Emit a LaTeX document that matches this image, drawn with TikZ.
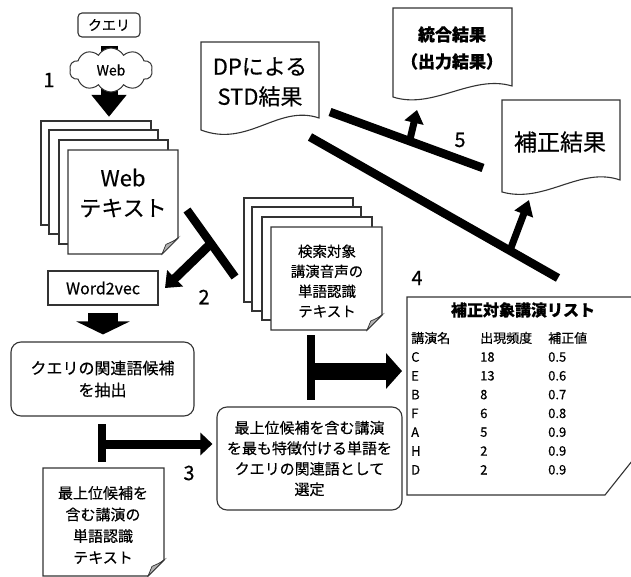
\documentclass[tikz,border=0pt]{standalone}
\usepackage{fontspec}
\setmainfont[FakeBold=0.4]{Noto Sans CJK JP}
\usetikzlibrary{arrows.meta,shapes.symbols,calc}
\newcommand\fsz[2]{\fontsize{#1}{#2}\selectfont}
\newcommand\foldsheet[5]{%
  \path[docline] (#1,#2) -- (#3,#2) -- (#3,#4-#5) -- (#3-#5,#4) -- (#1,#4) -- cycle;
  \path[fold] (#3,#4-#5) .. controls (#3-0.3*#5,#4-0.8*#5) .. (#3-0.75*#5,#4-0.6*#5) -- (#3-#5,#4) -- cycle;
}
\begin{document}
\begin{tikzpicture}[x=1pt,y=-1pt,line join=miter,
  docline/.style={draw=black!80,line width=1.1pt,fill=white},
  fold/.style={draw=black!80,line width=0.7pt,fill=black!30},
  bar/.style={line width=8.5pt,black},
  txt/.style={align=center,inner sep=0pt},
  lbl/.style={font=\fsz{20}{20},inner sep=0pt},
  cell/.style={anchor=west,inner sep=0pt,font=\fsz{13}{13}},
  fat/.style={black,line cap=butt}]
\useasboundingbox (0,0) rectangle (631,577);
\clip (0,0) rectangle (631,577);

% ---------- query, cloud, arrow 1
\node[draw=black!80,line width=1.1pt,fill=white,rounded corners=4pt,minimum width=62pt,minimum height=24pt,inner sep=0pt,font=\fsz{14}{14}] (query) at (109,25) {クエリ};
\node[inner sep=0pt,minimum width=110pt,minimum height=104pt] (sheetA1) at (96,173) {};
\draw[fat,line width=17pt,-{Triangle[length=22pt,width=34pt]},shorten <=8pt,shorten >=4pt] (query.south) -- (query.south |- sheetA1.north);
\node[cloud,cloud puffs=10,cloud puff arc=120,aspect=1.9,draw=black!80,fill=white,line width=1pt,minimum width=83pt,minimum height=44pt,inner sep=0pt,font=\fsz{14}{14}] (web) at (111,70) {Web};
\node[lbl] (l1) at (49,80) {1};

% ---------- Web text stack
\path[docline] (41,121) rectangle (151,225);
\path[docline] (49,130) rectangle (158,234);
\path[docline] (59,140) rectangle (168,244);
\foldsheet{68}{150}{178}{254}{16}
\node[txt,font=\fsz{22}{30}] (webtext) at (123,193) {Web\\テキスト};

% ---------- Word2vec
\node[draw=black!80,line width=1.1pt,fill=white,minimum width=110pt,minimum height=34pt,inner sep=0pt,font=\fsz{16}{16}] (w2v) at (103,288) {Word2vec};

% ---------- extract box
\node[draw=black!80,line width=1.1pt,fill=white,rounded corners=10pt,minimum width=183pt,minimum height=74pt,txt,font=\fsz{16}{22}] (extract) at (102.5,379) {クエリの関連語候補\\を抽出};
\draw[fat,line width=30pt,-{Triangle[length=13pt,width=53pt]},shorten <=7pt,shorten >=7pt] (w2v.south) -- (w2v.south |- extract.north);

% ---------- search target stack
\path[docline] (244,198) rectangle (353,302);
\path[docline] (252,207) rectangle (361,311);
\path[docline] (262,217) rectangle (372,320);
\foldsheet{271}{227}{382}{330}{15}
\node[txt,font=\fsz{14.5}{20}] (search) at (327,281) {検索対象\\講演音声の\\単語認識\\テキスト};

% ---------- T arrow 2
\coordinate (b2a) at (187,210);
\coordinate (b2b) at (235,277);
\coordinate (t2) at (165,288);
\draw[bar] (b2a) -- (b2b);
\draw[fat,line width=9pt,-{Triangle[length=14pt,width=22pt]}] ($(b2a)!0.5!(b2b)$) -- (t2);
\node[lbl] (l2) at (204,297) {2};

% ---------- DP doc
\path[docline] (201,42) -- (319,42) -- (319,118) .. controls (278,104) and (248,148) .. (201,130) -- cycle;
\node[txt,font=\fsz{22}{30}] (dp) at (260,82) {DPによる\\STD結果};

% ---------- merged doc
\path[docline] (393,8) -- (512,8) -- (512,86) .. controls (472,74) and (433,110) .. (393,97) -- cycle;
\node[txt,font=\fsz{17}{27}\bfseries] (merged) at (452,48) {統合結果\\（出力結果）};

% ---------- corrected doc
\path[docline] (502,100) -- (620,100) -- (620,180) .. controls (580,166) and (545,204) .. (502,192) -- cycle;
\node[txt,font=\fsz{23}{23}] (corr) at (560,142) {補正結果};

% ---------- bar 5 and arrow
\coordinate (b5a) at (330,112);
\coordinate (b5b) at (483,168);
\coordinate (t5) at (417,110);
\draw[bar] (b5a) -- (b5b);
\draw[fat,line width=7pt,-{Triangle[length=13pt,width=19pt]}] ($(b5a)!0.52!(b5b)$) -- (t5);
\node[lbl] (l5) at (460,140) {5};

% ---------- bar 4 and arrow
\coordinate (b4a) at (310,137);
\coordinate (b4b) at (558,278);
\coordinate (t4) at (529,200);
\draw[bar] (b4a) -- (b4b);
\draw[fat,line width=7pt,-{Triangle[length=15pt,width=19pt]}] ($(b4a)!0.806!(b4b)$) -- (t4);
\node[lbl] (l4) at (417,278) {4};

% ---------- table doc
\path[docline] (407,297) -- (640,297) -- (640,451) -- (605,495) -- (407,495) -- cycle;
\node[inner sep=0pt,font=\fsz{16}{16}\bfseries] (ttitle) at (523,310) {補正対象講演リスト};
\node[cell] (h1) at (411,338) {講演名};
\node[cell] (h2) at (480,338) {出現頻度};
\node[cell] (h3) at (548,338) {補正値};
\foreach \n/\f/\v [count=\i from 0] in {C/18/0.5,E/13/0.6,B/8/0.7,F/6/0.8,A/5/0.9,H/2/0.9,D/2/0.9}{
  \node[cell] (ra\i) at (411,357+18.8*\i) {\n};
  \node[cell] (rb\i) at (480,357+18.8*\i) {\f};
  \node[cell] (rc\i) at (548,357+18.8*\i) {\v};
}

% ---------- T arrow search -> table
\coordinate (b6a) at (311,335);
\coordinate (b6b) at (311,400);
\coordinate (t6) at (402,371);
\draw[bar] (b6a) -- (b6b);
\draw[fat,line width=17pt,-{Triangle[length=16pt,width=35pt]}] (311,371) -- (t6);

% ---------- select box
\node[draw=black!80,line width=1.1pt,fill=white,rounded corners=10pt,minimum width=185pt,minimum height=103pt,txt,font=\fsz{15}{20.5}] (select) at (309.5,458.5) {最上位候補を含む講演\\を最も特徴付ける単語を\\クエリの関連語として\\選定};

% ---------- T arrow 3
\coordinate (b3a) at (102,424);
\coordinate (b3b) at (102,462);
\draw[bar] (b3a) -- (b3b);
\draw[fat,line width=9pt,-{Triangle[length=12pt,width=22pt]}] (102,444) -- ($(select.west |- 102,444)+(-4,0)$);
\node[lbl] (l3) at (189,473) {3};

% ---------- bottom doc
\foldsheet{43}{468}{164}{576}{16}
\node[txt,font=\fsz{15}{21.5}] (topdoc) at (103,525) {最上位候補を\\含む講演の\\単語認識\\テキスト};
\end{tikzpicture}
\end{document}
